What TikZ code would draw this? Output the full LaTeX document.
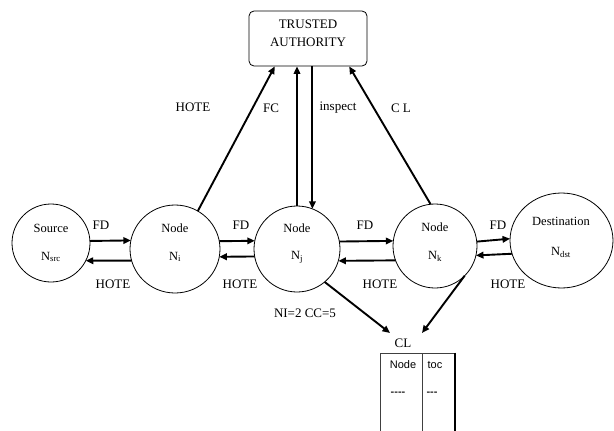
\documentclass[tikz,border=0pt]{standalone}
\usepackage{fontspec}
\setmainfont{Liberation Serif}
\newfontfamily\tablefont{Liberation Sans}
\usetikzlibrary{shapes.geometric,arrows.meta,calc}
\tikzset{
  peer/.style={ellipse,draw,line width=0.8pt,inner sep=0pt,outer sep=0pt},
  arr/.style={-{Triangle[length=7.5pt,width=6.5pt]},line width=1.9pt},
  lbl/.style={inner sep=0pt,font=\fontsize{13}{15}\selectfont},
  ntext/.style={inner sep=0pt,font=\fontsize{12.5}{14}\selectfont},
  ttext/.style={inner sep=0pt,font=\tablefont\fontsize{11}{13}\selectfont},
}
\begin{document}
\begin{tikzpicture}[x=1pt,y=-1pt]
\useasboundingbox (0,0) rectangle (614,431);
% nodes
\node[peer,minimum width=78pt,minimum height=78pt] (src) at (51,243) {};
\node[peer,minimum width=90pt,minimum height=88pt] (ni) at (175,249) {};
\node[peer,minimum width=86pt,minimum height=86pt] (nj) at (297,249) {};
\node[peer,minimum width=84pt,minimum height=84pt] (nk) at (435,246) {};
\node[peer,minimum width=103pt,minimum height=95pt] (dst) at (561.5,240.5) {};
\node[draw,rounded corners=5pt,line width=0.8pt,minimum width=118pt,minimum height=55pt,inner sep=0pt] (ta) at (308,38.5) {};
% node texts
\node[ntext] (srct1) at (51,228) {Source};
\node[ntext] (srct2) at (51,257) {N\textsubscript{src}};
\node[ntext] (nit1) at (175,228) {Node};
\node[ntext] (nit2) at (175,257) {N\textsubscript{i}};
\node[ntext] (njt1) at (297,228) {Node};
\node[ntext] (njt2) at (297,257) {N\textsubscript{j}};
\node[ntext] (nkt1) at (435,227) {Node};
\node[ntext] (nkt2) at (435,256) {N\textsubscript{k}};
\node[ntext] (dstt1) at (561,221) {Destination};
\node[ntext] (dstt2) at (561,252) {N\textsubscript{dst}};
\node[lbl] (tat1) at (308,24) {TRUSTED};
\node[lbl] (tat2) at (308,42) {AUTHORITY};
% horizontal arrows
\draw[arr] (src.3) -- (ni.169.75);
\draw[arr] (ni.195.5) -- (src.-27.5);
\draw[arr] (ni.10.25) -- (nj.169.3);
\draw[arr] (nj.190.7) -- (ni.-10.25);
\draw[arr] (nj.10.7) -- (nk.173.2);
\draw[arr] (nk.200.9) -- (nj.-16.2);
\draw[arr] (nk.6.8) -- (dst.178.9);
\draw[arr] (dst.195.8) -- (nk.-13.8);
% labels
\node[lbl] (fd1) at (101,225) {FD};
\node[lbl] (ho1) at (113,284) {HOTE};
\node[lbl] (fd2) at (241,225) {FD};
\node[lbl] (ho2) at (240,284) {HOTE};
\node[lbl] (fd3) at (365,225) {FD};
\node[lbl] (ho3) at (380,284) {HOTE};
\node[lbl] (fd4) at (498,225) {FD};
\node[lbl] (ho4) at (508,284) {HOTE};
% arrows to trusted authority
\draw[arr] (ni.59.5) -- ($(ta.south west)!0.22!(ta.south east)$);
\draw[arr] (nj.north) -- (nj.north |- ta.south);
\draw[arr] (ta.south -| nj.69.6) -- (nj.69.6);
\draw[arr] (nk.96.8) -- ($(ta.south west)!0.847!(ta.south east)$);
\node[lbl] (hoU) at (193,107) {HOTE};
\node[lbl] (fc) at (271,108) {FC};
\node[lbl] (insp) at (338,108) {inspect};
\node[lbl] (clU) at (401,108) {C L};
% CL
\node[lbl] (nicc) at (305,313) {NI=2 CC=5};
\node[lbl] (cl) at (403,343) {CL};
\coordinate (clin1) at (390,333);
\coordinate (clin2) at (422,333);
\draw[arr] (nj.-50.5) -- (clin1);
\draw[arr] (nk.-45) -- (clin2);
% table
\draw[line width=0.9pt,draw=black!75] (380,431) -- (380,353) -- (455,353);
\draw[line width=0.9pt,draw=black!75] (422,353) -- (422,431);
\draw[line width=1.5pt] (455,352.5) -- (455,431);
\node[ttext] (tn) at (403,365) {Node};
\node[ttext] (tt) at (435,365) {toc};
\node[ttext,text=black!85,font=\tablefont\bfseries\fontsize{11}{13}\selectfont] (td1) at (398,394) {-{}-{}-{}-};
\node[ttext,text=black!85,font=\tablefont\bfseries\fontsize{11}{13}\selectfont] (td2) at (432,394) {-{}-{}-};
\end{tikzpicture}
\end{document}
